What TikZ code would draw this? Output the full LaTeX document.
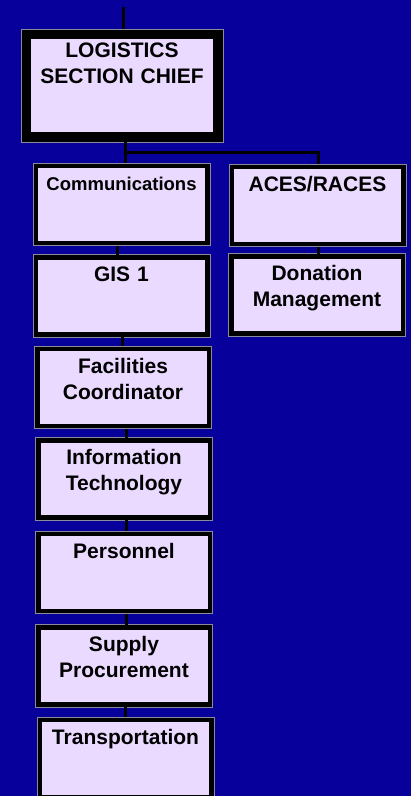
\documentclass[tikz,border=0pt]{standalone}
\usepackage{fontspec}
\setmainfont{Liberation Sans}
\usepackage{tikz}
\usetikzlibrary{positioning,calc}
\definecolor{bgblue}{HTML}{08009A}
\definecolor{boxfill}{HTML}{EBDAFF}
\definecolor{rimgray}{HTML}{8A8A9A}

\begin{document}
\begin{tikzpicture}[
    x=1pt, y=1pt,
    box/.style={draw=black, line width=5pt, fill=boxfill,
        text width=160pt, align=center, minimum width=172pt,
        inner xsep=2pt, inner ysep=9.5pt, text height=15pt, text depth=43.5pt,
        font=\bfseries\fontsize{21}{26}\selectfont},
    chiefbox/.style={box, line width=10pt,
        text width=185pt, minimum width=192pt, inner ysep=8pt, text depth=72pt},
    rim/.style={draw=rimgray, line width=1pt},
    link/.style={draw=black, line width=3pt}
]
    \useasboundingbox (0,0) rectangle (411,-796);
    \clip (0,0) rectangle (411,-796);
    \fill[bgblue] (0,0) rectangle (411,-796);

    % chief and the left column
    \node[chiefbox, anchor=north] (chief) at (122,-29) {LOGISTICS\\SECTION CHIEF};
    \node[box, below=21pt of chief, xshift=-0.5pt, font=\bfseries\fontsize{18.5}{24}\selectfont] (comm) {Communications};
    \node[box, below=9pt of comm] (gis) {GIS 1};
    \node[box, below=9pt of gis, xshift=1.5pt] (fac) {Facilities\\Coordinator};
    \node[box, below=9pt of fac, xshift=1pt] (infotech) {Information\\Technology};
    \node[box, below=11pt of infotech] (personnel) {Personnel};
    \node[box, below=11pt of personnel] (supply) {Supply\\Procurement};
    \node[box, below=10pt of supply, xshift=1.5pt] (transport) {Transportation};

    % right column
    \node[box, right=19pt of comm, yshift=-1pt] (aces) {ACES/RACES};
    \node[box, below=7pt of aces, xshift=-0.5pt] (donation) {Donation\\Management};

    % thin grey rims round the boxes
    \foreach \n in {chief,comm,gis,fac,infotech,personnel,supply,transport,aces,donation}
        \draw[rim] (\n.south west) rectangle (\n.north east);

    % connectors
    \coordinate (entry) at (123,-7);
    \draw[link] (entry) -- (entry |- chief.north);
    \draw[link] ([xshift=3pt]chief.south) -- ([xshift=3pt]chief.south |- comm.north);
    \coordinate (split) at ($([xshift=3pt]chief.south)!0.5!([xshift=3pt]chief.south |- comm.north)$);
    \draw[link] (split) -| ([xshift=1pt]aces.north);
    \draw[link] ([xshift=1pt]aces.south) -- ([xshift=1pt]aces.south |- donation.north);
    \foreach \a/\b/\dx in {comm/gis/-4.5, gis/fac/0.5, fac/infotech/3,
                           infotech/personnel/2, personnel/supply/2, supply/transport/1}
        \draw[link] ([xshift=\dx pt]\a.south) -- ([xshift=\dx pt]\a.south |- \b.north);
\end{tikzpicture}
\end{document}
